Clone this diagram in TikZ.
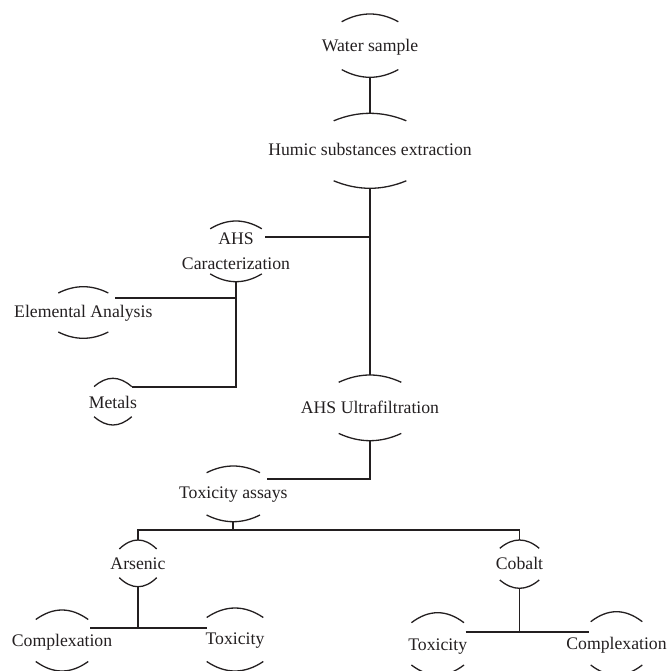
\documentclass[tikz,border=0pt]{standalone}
\usepackage{fontspec}
\setmainfont{Liberation Serif}
\definecolor{ink}{HTML}{231F20}
\tikzset{
  lbl/.style={inner sep=0pt, align=center, font=\fontsize{17.7}{25}\selectfont, text=ink},
  capline/.style={line width=1.3pt, draw=ink},
  conn/.style={line width=1.8pt, draw=ink},
}
% #1 anchor, #2 name, #3 x, #4 y, #5 text, #6 half width, #7 top apex y, #8 bottom apex y, #9 sag
\newcommand\capnode[9][base]{%
  \node[lbl, anchor=#1] (#2) at (#3,#4) {#5};
  \coordinate (#2-t) at (#3,#7);
  \coordinate (#2-b) at (#3,#8);
  \draw[capline] (#3-#6,#7+#9) .. controls (#3-#6/3,#7-#9/3) and (#3+#6/3,#7-#9/3) .. (#3+#6,#7+#9);
  \draw[capline] (#3-#6,#8-#9) .. controls (#3-#6/3,#8+#9/3) and (#3+#6/3,#8+#9/3) .. (#3+#6,#8-#9);
}
\begin{document}
\begin{tikzpicture}[x=1pt, y=-1pt]
\useasboundingbox (0,0) rectangle (668,671);

\capnode{ws}{370}{51.5}{Water sample}{28.3}{14}{77.3}{7.7}
\capnode{hse}{370}{156}{Humic substances extraction}{36.3}{113.3}{188.3}{7.5}
\capnode[center]{car}{236}{250.8}{AHS\\Caracterization}{25.8}{221}{281.7}{7.8}
\capnode{ea}{83.3}{317}{Elemental Analysis}{25}{286.7}{338.3}{6.3}
\capnode{met}{112.9}{408}{Metals}{18.8}{378.3}{425}{8.3}
\capnode{uf}{370}{413.5}{AHS Ultrafiltration}{31.3}{375}{440.7}{7.3}
\capnode{ta}{233.3}{498.5}{Toxicity assays}{26.7}{466}{521.7}{6.7}
\capnode{ars}{138}{569}{Arsenic}{18.7}{540}{586.7}{9}
\capnode{cob}{519.5}{569.5}{Cobalt}{19.7}{540}{588.3}{8.3}
\capnode{cxa}{62}{646}{Complexation}{26.2}{610}{671}{9.5}
\capnode{txa}{235}{644}{Toxicity}{28.3}{608}{671}{9.5}
\capnode{txb}{437.7}{650}{Toxicity}{26.3}{612.7}{675}{10}
\capnode{cxb}{616.5}{649.5}{Complexation}{25.8}{611.7}{675}{10}

% connector attachment points
\coordinate (car-r) at (265,237.3);
\coordinate (ea-r) at (115,298.3);
\coordinate (met-r) at (131.7,386.7);
\coordinate (ta-r) at (266.7,479.3);
\coordinate (bus) at (233.3,530);
\coordinate (cxa-r) at (90,627.7);
\coordinate (txa-l) at (206.7,627.7);
\coordinate (txb-r) at (465.7,631.7);
\coordinate (cxb-l) at (589,631.7);

% connectors
\draw[conn] (ws-b) -- (hse-t);
\draw[conn] (hse-b) -- (uf-t);
\draw[conn] (car-r) -- (car-r -| hse-b);
\draw[conn] (car-b) -- (car-b |- met-r) -- (met-r);
\draw[conn] (ea-r) -- (ea-r -| car-b);
\draw[conn] (uf-b) -- (uf-b |- ta-r) -- (ta-r);
\draw[conn] (ta-b) -- (bus);
\draw[conn] (ars-t) -- (ars-t |- bus) -- (cob-t |- bus) -- (cob-t);
\draw[conn] (ars-b) -- (ars-b |- cxa-r);
\draw[conn] (cxa-r) -- (txa-l);
\draw[conn] (cob-b) -- (cob-b |- txb-r);
\draw[conn] (txb-r) -- (cxb-l);
\end{tikzpicture}
\end{document}
